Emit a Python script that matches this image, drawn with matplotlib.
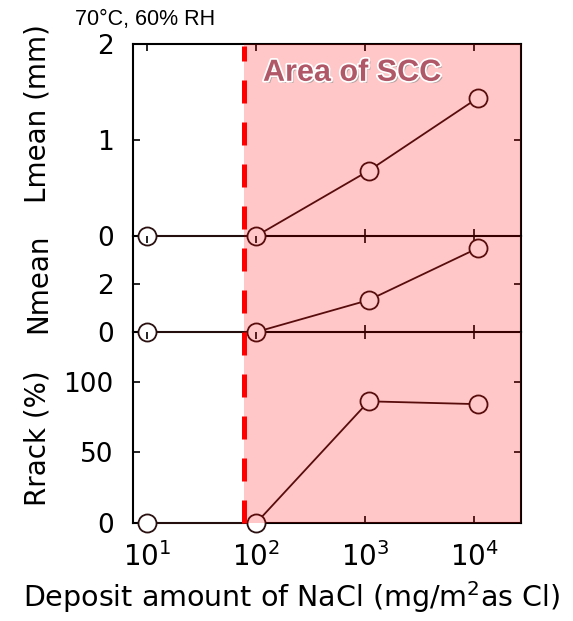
import numpy as np
import matplotlib
matplotlib.use("Agg")
import matplotlib.pyplot as plt
import matplotlib.transforms as mtransforms
import matplotlib.patheffects as pe

# datos
nacl = [10, 100, 1080, 10900]          # mg/m2 as Cl
lmean = [0.0, 0.0, 0.68, 1.44]         # mm
nmean = [0.0, 0.0, 1.33, 3.5]
rrack = [0.0, 0.0, 86, 84]             # %
scc_limit = 78                          # limite del area de SCC
xticks = [10, 100, 1000, 10000]
xticklabels = [r"$10^1$", r"$10^2$", r"$10^3$", r"$10^4$"]

plt.rcParams['font.family'] = ['DejaVu Sans']
plt.rcParams['mathtext.fontset'] = 'dejavusans'

fig = plt.figure(figsize=(5.73, 6.21), dpi=100)
left, width = 133/573, 388/573
ax1 = fig.add_axes([left, 1 - 236/621, width, 192/621])
ax2 = fig.add_axes([left, 1 - 332/621, width, 96/621])
ax3 = fig.add_axes([left, 1 - 523/621, width, 191/621])

ink = "#2a1010"
panels = [(ax1, lmean, (0, 2), [0, 1, 2], ["0", "1", "2"], "Lmean (mm)", 0.64),
          (ax2, nmean, (0, 4), [0, 2], ["0", "2"], "Nmean", 0.51),
          (ax3, rrack, (0, 135), [0, 50, 100], ["0", "50", "100"], "Rrack (%)", 0.445)]

for ax, vals, ylim, yt, ytl, lab, ly in panels:
    ax.patch.set_visible(False)
    ax.set_xscale("log")
    ax.set_xlim(7.4, 27000)
    ax.set_ylim(*ylim)
    ax.plot(nacl, vals, color=ink, lw=1.3, marker="o", ms=13,
            mfc="white", mec=ink, mew=1.3, clip_on=False, zorder=3)
    # zona rosa (SCC)
    ax.axvspan(scc_limit, 27000, color="red", alpha=0.22, lw=0, zorder=5)
    ax.set_yticks(yt)
    ax.set_yticklabels(ytl, fontsize=19)
    ax.set_xticks(xticks)
    ax.minorticks_off()
    ax.tick_params(axis="both", direction="in", length=5, width=1.2,
                   top=True, right=True, pad=14)
    for s in ax.spines.values():
        s.set_linewidth(1.5)
        s.set_color("black")
    ax.text(-0.245, ly, lab, transform=ax.transAxes, rotation=90,
            ha="center", va="center", fontsize=20)

for ax in (ax1, ax2):
    ax.set_xticklabels([])
ax2.spines["top"].set_visible(False)
ax3.spines["top"].set_visible(False)

ax3.set_xticklabels(xticklabels, fontsize=20)
ax3.tick_params(axis="x", pad=14)
fig.text(292/573, 1 - 597/621, r"Deposit amount of NaCl (mg/m$^2$as Cl)",
         fontsize=20.5, ha="center", va="center")

# linea roja discontinua sobre los tres paneles
trans = mtransforms.blended_transform_factory(ax3.transData, fig.transFigure)
ax3.plot([scc_limit, scc_limit], [1 - 523/621, 1 - 46/621], transform=trans,
         color="red", lw=3.6, dashes=(4.6, 3.8), clip_on=False, zorder=10)

ax1.text(0.335, 0.85, "Area of SCC", transform=ax1.transAxes, fontsize=22,
         fontweight="bold", family="Liberation Sans", color="#b05868",
         ha="left", va="center", zorder=8,
         path_effects=[pe.withSimplePatchShadow(offset=(1.5, -1.5), shadow_rgbFace="#888888", alpha=0.6),
                       pe.Stroke(linewidth=2.5, foreground="white"), pe.Normal()])

fig.text(75/573, 1 - 20/621, "70\u00b0C, 60% RH", fontsize=15.5, family="Liberation Sans",
         ha="left", va="center")

fig.savefig("out.png", dpi=100)
